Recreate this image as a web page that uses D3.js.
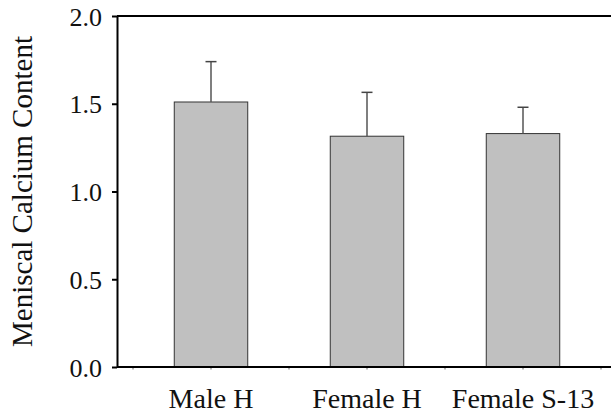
<!DOCTYPE html>
<html>
<head>
<meta charset="utf-8">
<script src="https://cdn.jsdelivr.net/npm/d3@7"></script>
<style>
  body { margin: 0; background: #fff; }
  text { font-family: "Liberation Serif", "Times New Roman", serif; fill: #111; }
</style>
</head>
<body>
<svg></svg>
<script>
const width = 611, height = 415;

const categories = ["Male H", "Female H", "Female S-13"];
const means = [1.51, 1.315, 1.33];
const errors = [0.23, 0.25, 0.15];
const yTicks = [0.0, 0.5, 1.0, 1.5, 2.0];

const data = categories.map((c, i) => ({name: c, value: means[i], err: errors[i]}));

const svg = d3.select('svg')
    .attr('width', width)
    .attr('height', height);

const plotLeft = 117, plotRight = 611, plotTop = 16, plotBottom = 367;

const y = d3.scaleLinear().domain([0, 2]).range([plotBottom, plotTop]);
const x = d3.scaleBand().domain(categories)
    .range([133, 601])
    .paddingInner(0.529)
    .paddingOuter(0.2645);

// bars
svg.selectAll('.bar')
    .data(data)
    .enter().append('rect')
    .attr('class', 'bar')
    .attr('x', d => x(d.name))
    .attr('y', d => y(d.value))
    .attr('width', x.bandwidth())
    .attr('height', d => y(0) - y(d.value))
    .style('fill', '#c0c0c0')
    .style('stroke', '#333')
    .style('stroke-width', 1);

// error bars
const eb = svg.selectAll('.err')
    .data(data)
    .enter().append('g')
    .attr('class', 'err');
eb.append('line')
    .attr('x1', d => x(d.name) + x.bandwidth() / 2)
    .attr('x2', d => x(d.name) + x.bandwidth() / 2)
    .attr('y1', d => y(d.value))
    .attr('y2', d => y(d.value + d.err))
    .style('stroke', '#555').style('stroke-width', 1.5);
eb.append('line')
    .attr('x1', d => x(d.name) + x.bandwidth() / 2 - 5.5)
    .attr('x2', d => x(d.name) + x.bandwidth() / 2 + 5.5)
    .attr('y1', d => y(d.value + d.err))
    .attr('y2', d => y(d.value + d.err))
    .style('stroke', '#444').style('stroke-width', 1.5);

// small ticks along the bottom axis
const step = x.step();
const xMinor = [];
for (let k = 0; k <= categories.length * 2; k++) xMinor.push(x.range()[0] + k * step / 2);
svg.selectAll('.xminor')
    .data(xMinor)
    .enter().append('line')
    .attr('x1', d => d).attr('x2', d => d)
    .attr('y1', plotBottom).attr('y2', plotBottom + 2.5)
    .style('stroke', '#666').style('stroke-width', 1);

// y axis
const yAxis = svg.append('g')
    .attr('transform', `translate(${plotLeft},0)`)
    .call(d3.axisLeft(y).tickValues(yTicks).tickFormat(d3.format('.1f')).tickSize(5).tickSizeOuter(0))
    .attr('font-family', null)
    .attr('font-size', null);
yAxis.select('.domain').style('stroke', '#000').style('stroke-width', 2);
yAxis.selectAll('.tick line').style('stroke', '#000').style('stroke-width', 2);
yAxis.selectAll('.tick text')
    .attr('x', -15)
    .attr('dy', '0.35em')
    .attr('font-family', '"Liberation Serif", serif')
    .style('font-size', '26px')
    .style('fill', '#111');

// top and bottom frame lines
svg.append('line')
    .attr('x1', plotLeft).attr('x2', plotRight)
    .attr('y1', y(2)).attr('y2', y(2))
    .style('stroke', '#000').style('stroke-width', 2);
svg.append('line')
    .attr('x1', plotLeft).attr('x2', plotRight)
    .attr('y1', y(0)).attr('y2', y(0))
    .style('stroke', '#000').style('stroke-width', 2);

// category labels
svg.selectAll('.cat')
    .data(categories)
    .enter().append('text')
    .attr('class', 'cat')
    .attr('x', d => x(d) + x.bandwidth() / 2)
    .attr('y', 408)
    .attr('text-anchor', 'middle')
    .style('font-size', '28px')
    .text(d => d);

// y title
svg.append('text')
    .attr('transform', `translate(32,${(plotTop + plotBottom) / 2}) rotate(-90)`)
    .attr('text-anchor', 'middle')
    .style('font-size', '29px')
    .text('Meniscal Calcium Content');
</script>
</body>
</html>
